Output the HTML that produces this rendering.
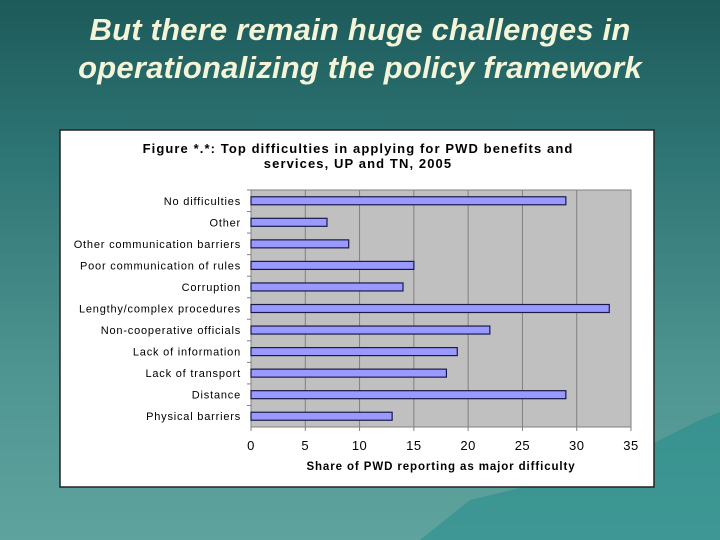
<!DOCTYPE html>
<html><head><meta charset="utf-8"><style>
body{margin:0;width:720px;height:540px;overflow:hidden;background:linear-gradient(180deg,#1d5a5a 0%,#2f7676 30%,#4f9591 70%,#5fa39e 100%);font-family:"Liberation Sans",sans-serif;position:relative}
h1{position:absolute;left:0;top:11px;width:720px;margin:0;text-align:center;color:#f4f4d8;font-style:italic;font-weight:bold;font-size:31px;line-height:38px;letter-spacing:0.2px}
</style></head><body>
<svg width="720" height="540" style="position:absolute;left:0;top:0">
<path d="M420 540 L470 500 L520 488 L560 480 L600 460 L650 445 L700 420 L720 412 L720 540Z" fill="#1e8c8a" opacity="0.5"/>
</svg>
<h1>But there remain huge challenges in<br>operationalizing the policy framework</h1>
<svg id="chart" width="720" height="540" style="position:absolute;left:0;top:0"></svg>
<script>
const categories=["No difficulties","Other","Other communication barriers","Poor communication of rules","Corruption","Lengthy/complex procedures","Non-cooperative officials","Lack of information","Lack of transport","Distance","Physical barriers"];
const values=[29,7,9,15,14,33,22,19,18,29,13];
const ticks=[0,5,10,15,20,25,30,35];
const NS="http://www.w3.org/2000/svg";
const svg=document.getElementById('chart');
function mk(t,a,txt){const e=document.createElementNS(NS,t);for(const k in a)e.setAttribute(k,a[k]);if(txt!=null)e.textContent=txt;svg.appendChild(e);return e;}
const X0=251,X1=631,Y0=190,Y1=427;
const xs=v=>X0+(v-0)/(35-0)*(X1-X0);
const band=(Y1-Y0)/categories.length;
const yc=i=>Y0+band*(i+0.5);
let e;
e=mk('rect',{x:60,y:130,width:594,height:357,fill:'#fff',stroke:'#222','stroke-width':1.5});

e=mk('text',{x:358,y:153,'text-anchor':'middle','font-size':13,'font-weight':'bold','letter-spacing':1.1,fill:'#000'},'Figure *.*: Top difficulties in applying for PWD benefits and');

e=mk('text',{x:358,y:168,'text-anchor':'middle','font-size':13,'font-weight':'bold','letter-spacing':1.1,fill:'#000'},'services, UP and TN, 2005');

e=mk('rect',{x:X0,y:Y0,width:X1-X0,height:Y1-Y0,fill:'#c0c0c0',stroke:'#808080'});

ticks.forEach(t=>{
 e=mk('line',{x1:xs(t),x2:xs(t),y1:Y0,y2:Y1+4,stroke:'#808080'});
 
 e=mk('text',{x:xs(t),y:450,'text-anchor':'middle','font-size':13,'letter-spacing':0.5,fill:'#000'},t);
 
});
categories.forEach((c,i)=>{
 e=mk('line',{x1:X0-4,x2:X0,y1:Y0+band*i,y2:Y0+band*i,stroke:'#808080'});
 
 e=mk('text',{x:241,y:yc(i)+4,'text-anchor':'end','font-size':11,'letter-spacing':0.8,fill:'#000'},c);
 
 e=mk('rect',{x:xs(0),y:yc(i)-4,width:xs(values[i])-xs(0),height:8,fill:'#9999ff',stroke:'#1a1a4a','stroke-width':1.2});
 
});
e=mk('text',{x:441,y:470,'text-anchor':'middle','font-size':11.5,'font-weight':'bold','letter-spacing':0.9,fill:'#000'},'Share of PWD reporting as major difficulty');

</script>
</body></html>
